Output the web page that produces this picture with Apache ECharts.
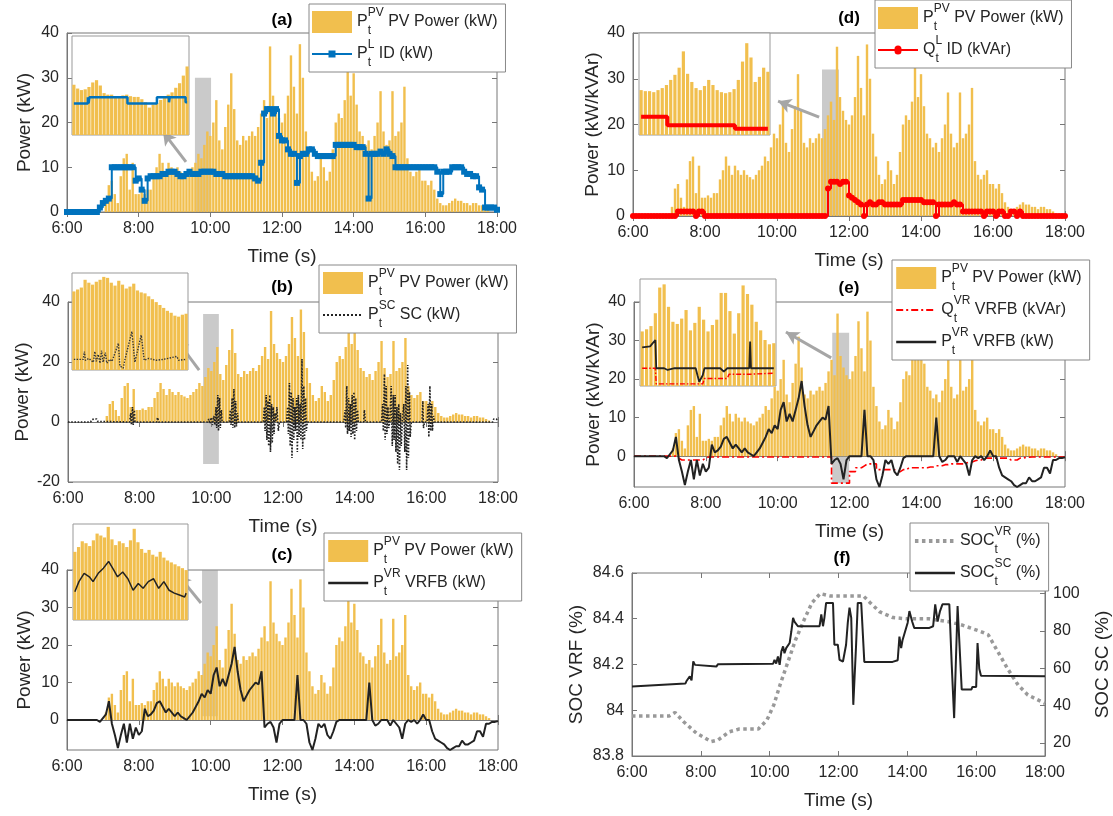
<!DOCTYPE html>
<html><head><meta charset="utf-8">
<script src="https://cdn.jsdelivr.net/npm/echarts@6/dist/echarts.min.js"></script>
<style>html,body{margin:0;padding:0;background:#fff}#c{width:1113px;height:816px}</style>
</head><body><div id="c"></div>
<script>
// ---------------- DATA (5-min samples from 6:00 to 18:00) ----------------
const tickHours = [6, 8, 10, 12, 14, 16, 18];
const pvPower = [
0,0,0,0,0,0,0,0,0,0,0,0,
0,2,6,7,4,2,8,12,13,5,11,4,
4,4.5,4,5,5,8,10,13,11,9,11,10,
9,10,9,8.5,8,9,10,11,13,12,15,18,
17,20,25,16,14,19,24,31,23,16,15,17,
16,17,18,17,19,22,25,21,37,26,23,21,
20,22,26,35,28,22,37.5,30,18,13,9,7,
8,12,10,7,9,14,20,22,21,25,34,26,
31,24,18,17,15,16,14,17,20,27,18,15,
16,27,17,18,20,28,12,9,8,9,10,7,
7,6,7,5,3,2,1.5,1.5,2,2.5,3,2.5,
2.5,2,2,1.5,2,2,1.5,1.5,1,0.5,0,0,
0];
const idLoad = [
0,0,0,0,0,0,0,0,0,0,0,1,
2,2.5,3,10,10,10,10,10,10,10,10,7,
7.5,5,2.5,7.5,8,8,8,8,8.5,8.5,9,9,
9,8.5,8,8,8.5,9,8.5,8.5,8.5,9,9,9,
9,9,8.5,8.5,8.5,8,8,8,8,8,8,8,
8,8,8,7.5,7,11,22,23,23,22,23,17,
16,16,14,13,13,6.5,12.5,13,13,14,14,13,
12.5,12.5,12.5,12.5,12.5,12.5,15,15,15,15,15,15,
15,14.5,14.5,14.5,13,3,13,13,13,13.5,13,14,
13,12.5,10,10,10,10,10,10,10,10,10,10,
10,10,10,10,9,4,9,9,9,10,10,10,
10,9,8.5,8.5,8,8,5.5,5,1,1,1,1,
0.5];
const qLoad = [
0,0,0,0,0,0,0,0,0,0,0,0,
0,0,0,1,1,1,1,1,1,0,1,1,
0,0,0,0,0,0,0,0,0,0,0,0,
0,0,0,0,0,0,0,0,0,0,0,0,
0,0,0,0,0,0,0,0,0,0,0,0,
0,0,0,0,0,6,7.5,7.5,7.5,7,7.5,7.5,
4.5,4,3.5,3,2.5,0,2.5,3,2.5,2.5,3,3,
2.5,2.5,2.5,2.5,2.5,2.5,3.5,3.5,3.5,3.5,3.5,3.5,
3.5,3,3,3,3,0,2.5,2.5,2.5,2.5,2.5,3,
2.5,2.5,1,1,1,1,1,1,1,0,1,1,
1,0,1,1,0,0,1,1,0,1,0,0,
0,0,0,0,0,0,0,0,0,0,0,0,
0];
const pVRFB = [
0,0,0,0,0,0,0,0,0,0,0,-0.5,
0.5,1.5,5,-1,-4,-7.5,-4,-1,-6,-1,-5,-2,
-4,-3,3,1,1.5,2.5,4.5,5,3.5,2,3,2,
1,2,1,0.5,0,1,2,3.5,5,7,6,8,
7,12,14,9,11,9,12,15,19.5,13,8,5,
6.5,8,9,10,9.5,13,-2,-1,-0.5,-2,-6,-1,
0,0,0,0,0,12,0,0,-1,-6,-8,-5,
-1,-2,-1,-4,-5,-3,-0.5,0,0,0,0,0,
0,0,0,0,0,10,0,-1.5,-1,0,0,0,
-1.5,0,-1,-2,-5,-1,0,-0.5,0,-1,0,1.5,
0,0,-3,-5,-5.5,-6,-6.5,-7.5,-8,-7.5,-7,-7,
-5.5,-6.5,-6.5,-6,-5.5,-3,-3,-4.5,-1,-1,-0.5,-0.5,
-0.3];
const qVRFB = [
0,0,0,0,0,0,0,0,0,0,0,0,
0,0,-0.5,-1,-1,-1,-1,-1,-1,-1,-1,-0.5,
-0.2,-0.2,-0.2,-0.2,-0.2,-0.2,-0.2,-0.2,-0.2,-0.2,-0.2,-0.2,
-0.2,-0.2,-0.2,-0.2,-0.2,-0.2,-0.2,-0.2,-0.2,-0.2,-0.2,-0.2,
-0.2,-0.2,-0.2,-0.2,-0.2,-0.2,-0.2,-0.2,-0.2,-0.2,-0.2,-0.2,
-0.2,-0.2,-0.2,-0.2,-0.2,-0.2,-7,-7,-7,-7,-7,-7,
-4,-4,-3,-3,-2.5,-2,-2,-2,-2,-3.5,-3.5,-3.5,
-3.5,-3.5,-3.5,-4,-4,-3.5,-3.5,-3,-3,-3,-3,-3,
-3,-3,-2.8,-2.8,-2.5,-2.5,-2.5,-2.2,-2.2,-2,-2,-2,
-2,-2,-1.8,-1.5,-1.5,-1.2,-1,-1,-0.5,-0.5,-0.5,-0.5,
-0.5,-0.5,-0.5,-0.5,-0.5,-1,-1,-1,-0.5,-0.5,-0.3,-0.3,
-0.2,-0.2,-0.2,-0.2,-0.2,-0.2,-0.2,-0.2,-0.2,-0.2,-0.2,-0.2,
-0.2];
// SC power: [hour, kW]
const pSC = [
[6,0],[6.63,0],[6.67,0.8],[6.7,0.3],[6.73,1],[6.77,0.5],[6.8,1],[6.83,0.2],[6.87,0],
[7.72,0],[7.75,3],[7.77,-1],[7.8,5],[7.82,-1],[7.85,4],[7.87,0],
[8.47,0],[8.5,1.5],[8.53,0],
[9.9,0],[9.93,1],[9.96,-0.5],[10,1.5],[10.03,-1],[10.07,2],[10.1,-1],
[10.13,5],[10.15,-2],[10.18,9],[10.2,-3],[10.23,8],[10.25,-2],[10.28,4],[10.3,0],
[10.5,0],[10.53,4],[10.55,-1],[10.58,8],[10.6,-2],[10.63,11],[10.65,-2],[10.68,7],[10.7,-1.5],[10.73,3],[10.75,0],
[11.45,0],[11.48,5],[11.5,-3],[11.53,9],[11.55,-6],[11.58,7],[11.6,-8],[11.63,9],[11.65,-10],[11.68,6],[11.7,-7],[11.73,5],[11.75,-4],[11.78,3],[11.8,0],
[11.83,5],[11.87,-3],[11.9,0],
[12.1,0],[12.13,5],[12.15,-4],[12.18,13],[12.2,-8],[12.23,10],[12.25,-12],[12.28,8],[12.3,-6],[12.33,5],[12.35,-3],[12.38,8],[12.4,-10],[12.43,9],[12.45,-5],[12.48,6],[12.5,-6],[12.53,21],[12.55,-9],[12.58,12],[12.6,-6],[12.63,8],[12.65,-3],[12.68,0],
[13.7,0],[13.73,4],[13.75,-2],[13.78,12],[13.8,-4],[13.83,8],[13.85,-3],[13.88,6],[13.9,-5],[13.93,9],[13.95,-4],[13.98,10],[14,-6],[14.03,8],[14.05,-3],[14.08,4],[14.1,0],
[14.25,0],[14.27,4],[14.3,0],
[14.75,0],[14.78,6],[14.8,-3],[14.83,16],[14.85,-6],[14.88,12],[14.9,-4],[14.93,5],[14.95,-2],[14.98,0],[15.02,12],[15.05,-8],[15.08,9],[15.1,-6],[15.13,9],[15.15,-10],[15.18,5],[15.2,-14],[15.23,6],[15.25,-16],[15.28,3],[15.3,-8],[15.33,0],[15.37,6],[15.4,-10],[15.43,12],[15.45,-16],[15.48,19],[15.5,-12],[15.53,10],[15.55,-5],[15.58,0],
[15.88,0],[15.9,7],[15.92,-2],[15.95,0],
[16.02,0],[16.05,6],[16.07,-5],[16.1,12],[16.12,-3],[16.15,6],[16.17,-3],[16.2,2],[16.23,0],
[17.85,0],[17.88,1],[17.92,0.5],[17.95,1],[18,0.5]];
// SOC curves: [hour, %]
const socVR = [[6,83.975],[7.08,83.975],[7.25,83.99],[7.5,83.95],[7.87,83.9],[8.3,83.863],[8.5,83.87],[8.83,83.906],[9.12,83.918],[9.67,83.918],[9.92,83.957],[10.12,84.023],[10.3,84.11],[10.5,84.198],[10.75,84.307],[11,84.395],[11.23,84.47],[11.47,84.51],[11.75,84.5],[12.72,84.5],[12.92,84.47],[13.2,84.43],[13.58,84.405],[13.97,84.4],[14.63,84.4],[15.2,84.387],[15.58,84.373],[16.15,84.343],[16.35,84.33],[16.63,84.256],[16.92,84.18],[17.22,84.11],[17.5,84.067],[18,84.03]];
const socSC = [[6,50.2],[7.55,51.8],[7.58,53],[7.68,55.7],[7.73,53.5],[7.78,63.7],[7.83,61.8],[7.87,60.9],[8.45,60.9],[8.5,62.2],[10.1,62.4],[10.14,64.5],[10.19,62.5],[10.24,66.3],[10.29,61.8],[10.34,69],[10.39,71.7],[10.43,68],[10.48,70.8],[10.58,73.5],[10.63,79.8],[10.68,87],[10.72,85],[10.82,82.5],[10.87,81.6],[11.45,82.5],[11.5,88.9],[11.55,82.5],[11.59,87],[11.64,95],[11.84,95],[11.88,72.6],[11.98,72.6],[12.03,64.5],[12.13,63.6],[12.22,72.6],[12.27,84.4],[12.32,92.4],[12.37,87],[12.43,40.4],[12.51,72],[12.56,95],[12.66,95],[12.75,63.4],[13.57,63.4],[13.72,64.3],[13.77,76.9],[13.82,70.8],[13.86,75],[13.91,74],[14.01,84.4],[14.06,90.6],[14.14,85],[14.2,81.6],[14.64,81.6],[14.75,82.5],[14.81,94.2],[14.88,85],[14.95,90.6],[15.02,94.2],[15.22,94.2],[15.29,61.8],[15.36,33.3],[15.46,93.3],[15.51,93.3],[15.58,48.6],[15.86,48.6],[15.89,50],[16.0,50],[16.04,73.5],[16.09,59.7],[16.14,56],[16.18,55.2],[18,55.7]];
// Inset (zoomed) data: minutes 0..30 within the zoom window
const insetPvA = [6.6,6.1,5.9,6.0,6.3,6.9,7.2,6.5,5.5,5.3,5.3,5.1,5.0,5.2,5.3,5.1,5.0,5.0,4.7,4.3,3.6,4.0,4.2,4.6,4.9,5.3,5.6,6.2,6.8,7.8,9.0];
const insetIdA = [[0,4.15],[3.7,4.15],[3.7,4.95],[3.9,4.95],[3.9,4.15],[4.1,4.15],[4.1,4.95],[14.2,4.95],[14.2,4.15],[22,4.15],[22,4.95],[25.2,4.95],[25.2,4.3],[25.4,4.3],[25.4,4.95],[29.6,4.95],[29.6,4.3],[30,4.3]];
const insetPvB = [8.1,8.3,8.5,9.3,9.0,8.8,9.1,9.3,9.6,9.5,9.0,8.7,9.2,8.8,8.4,8.6,8.9,8.2,8.0,7.9,7.6,7.3,7.0,6.7,6.4,6.1,5.9,5.6,5.5,5.7,5.8];
const insetScB = [[0,1.1],[2.5,1.1],[2.8,1.9],[3.1,1.0],[4,1.2],[5.2,0.8],[5.6,1.9],[6,0.9],[6.5,1.6],[7,0.7],[7.4,2.0],[7.8,0.8],[8.4,1.8],[8.8,0.7],[9.6,1.1],[10.2,0.9],[11.9,2.75],[12.3,0.4],[13.2,0.2],[13.6,1.0],[15.5,3.97],[16.3,0.8],[18,3.6],[18.8,1.0],[20,1.2],[22,1.0],[24,1.1],[27.5,1.4],[28,1.0],[30,1.1]];
const insetPvC = [7.1,7.6,8.2,8.0,7.7,8.3,9.0,8.8,8.6,9.7,8.4,7.8,8.2,8.0,7.6,8.3,9.5,8.1,7.4,7.0,7.3,6.8,6.6,7.1,6.5,6.2,6.0,5.8,5.6,5.4,5.2];
const insetVrC = [[0,2.95],[1.1,4.0],[2.5,4.86],[3.9,4.5],[4.9,4.0],[6.3,4.86],[7.7,5.4],[9.1,6.1],[10.5,5.2],[11.5,4.5],[12.9,5.0],[14.3,4.3],[15.7,3.1],[17.1,3.8],[18.4,3.3],[19.8,4.0],[21.2,4.3],[22.6,3.3],[24,4.0],[25.4,3.1],[26.8,2.8],[28.2,2.6],[29.6,2.4],[30,2.8]];
const insetPvD = [4.4,4.3,4.3,4.2,4.4,4.6,4.9,5.4,5.9,6.6,8.2,6.0,5.2,4.6,4.4,4.8,5.4,4.9,4.4,4.2,4.1,4.2,4.5,5.4,7.2,9.0,7.6,5.2,5.7,6.6,6.2];
const insetQD = [[0,1.78],[6.2,1.78],[6.2,0.95],[22.2,0.95],[22.2,0.62],[30,0.62]];
const insetPvE = [5.1,5.3,5.6,6.8,9.2,9.5,7.4,6.0,5.8,6.3,7.1,5.2,5.9,7.4,6.2,5.1,5.7,6.2,8.7,8.7,7.0,4.9,6.8,9.4,8.6,7.6,6.0,5.2,4.3,3.9,4.0];
const insetVrE = [[0,3.6],[1.8,3.7],[3,4.3],[3.2,1.66],[5,1.66],[5.8,1.5],[7.4,1.66],[12.2,1.66],[12.6,1.0],[13,0.4],[13.8,1.0],[14.2,1.66],[17.8,1.66],[18.6,1.35],[19.4,1.66],[24.4,1.66],[24.6,4.15],[24.8,1.66],[30,1.66]];
const insetQE = [[0,1.66],[3.0,1.66],[3.2,0.2],[13.8,0.2],[14.2,0.7],[19.4,0.7],[19.8,1.1],[24.6,1.1],[24.8,1.2],[30,1.2]];
// shaded zoom windows [t0, v0, t1, v1] and arrows [tFrom, vFrom, tTo, vTo]
const zoomBoxes = [[9.57,-3,10.02,30],[9.77,-14,10.21,36],[9.76,1,10.2,41],[11.25,-0.7,11.72,32],[11.52,-7,11.99,32]];
const zoomArrows = [[9.32,11.2,8.68,17.9],[9.66,17.3,9.01,27.7],[9.73,31.2,9.09,38.7],[11.17,21.6,10.03,25.1],[11.49,25.5,10.23,32.2]];

// ---------------- CHART ----------------
const F = '"Liberation Sans", Arial, Helvetica, sans-serif';
const TXT = '#262626', AX = '#777', PVC = '#F1BF4E';
const at5 = arr => arr.map((v, i) => [6 + i / 12, v]);
const idx = arr => arr.map((v, i) => [i, v]);

const mainGrids = [
  {left:67, top:33, width:430, height:179},
  {left:68, top:302, width:430, height:180},
  {left:67, top:570, width:431, height:180},
  {left:633, top:33, width:432, height:183},
  {left:634, top:302, width:431, height:185},
  {left:632, top:573, width:414, height:183}
];
const insetGrids = [
  {left:72, top:36, width:117, height:99},
  {left:72, top:273, width:116, height:97},
  {left:73, top:524, width:115, height:96},
  {left:639, top:33, width:131, height:102},
  {left:640, top:279, width:136, height:107}
];
const grid = mainGrids.map(g => Object.assign({show:true, borderColor:AX, borderWidth:1, backgroundColor:'transparent'}, g))
  .concat(insetGrids.map(g => Object.assign({show:true, borderColor:'#999', borderWidth:1, backgroundColor:'#fff', z:10}, g)));

const tickStyle = {inside:true, length:5, lineStyle:{color:AX}};
const xAxis = [];
for (let i = 0; i < 6; i++) xAxis.push({
  type:'value', gridIndex:i, min:6, max:18, interval:2,
  axisLine:{show:true, lineStyle:{color:AX}}, axisTick:tickStyle,
  axisLabel:{formatter: v => v + ':00', fontSize:16, color:TXT, fontFamily:F, margin:9},
  splitLine:{show:false}, name:'Time (s)', nameLocation:'middle', nameGap:35,
  nameTextStyle:{fontSize:19, color:TXT, fontFamily:F}
});
for (let i = 0; i < 5; i++) xAxis.push({type:'value', gridIndex:6+i, min:-0.5, max:30.5, show:false});
// mirrored top ticks (box style)
for (let i = 0; i < 6; i++) xAxis.push({type:'value', gridIndex:i, position:'top', min:6, max:18, interval:2,
  axisLine:{show:false}, axisTick:tickStyle, axisLabel:{show:false}, splitLine:{show:false}});

function yMain(gi, min, max, opt, name, gap) {
  return Object.assign({
    type:'value', gridIndex:gi, min, max,
    axisLine:{show:true, lineStyle:{color:AX}}, axisTick:tickStyle,
    axisLabel:{fontSize:16, color:TXT, fontFamily:F, margin:8},
    splitLine:{show:false}, name, nameLocation:'middle', nameGap:gap,
    nameTextStyle:{fontSize:19, color:TXT, fontFamily:F}
  }, opt);
}
const cust = v => ({axisLabel:{customValues:v, fontSize:16, color:TXT, fontFamily:F, margin:8}, axisTick:{customValues:v, inside:true, length:5, lineStyle:{color:AX}}});
const yAxis = [
  yMain(0, 0, 40, {interval:10}, 'Power (kW)', 33),
  yMain(1, -20, 40, {interval:20}, 'Power (kW)', 36),
  yMain(2, -8, 40, cust([0,10,20,30,40]), 'Power (kW)', 33),
  yMain(3, 0, 40, {interval:10}, 'Power (kW/kVAr)', 31),
  yMain(4, -8, 40, cust([0,10,20,30,40]), 'Power (kW/kVAr)', 31),
  yMain(5, 83.8, 84.6, {interval:0.2, axisLabel:{fontSize:16, color:TXT, fontFamily:F, margin:8, formatter: v => String(+v.toFixed(1))}}, 'SOC VRF (%)', 46)
];
const insetY = [[0,13],[0,10],[0,10],[0,10],[0,10]];
insetY.forEach((r, i) => yAxis.push({type:'value', gridIndex:6+i, min:r[0], max:r[1], show:false}));
yAxis.push(Object.assign(yMain(5, 13, 111, cust([20,40,60,80,100]), 'SOC SC (%)', 48), {position:'right', axisLine:{show:true, lineStyle:{color:AX}}}));
const Y_F_RIGHT = yAxis.length - 1;
// mirrored right ticks (box style)
[[0,40,{interval:10}],[-20,40,{interval:20}],[-8,40,{axisTick:{customValues:[0,10,20,30,40], inside:true, length:5, lineStyle:{color:AX}}}],
 [0,40,{interval:10}],[-8,40,{axisTick:{customValues:[0,10,20,30,40], inside:true, length:5, lineStyle:{color:AX}}}]]
 .forEach((r, i) => yAxis.push(Object.assign({type:'value', gridIndex:i, position:'right', min:r[0], max:r[1],
   axisLine:{show:false}, axisTick:tickStyle, axisLabel:{show:false}, splitLine:{show:false}}, r[2])));

const series = [];
function pv(name, gi) {
  series.push({name, type:'bar', xAxisIndex:gi, yAxisIndex:gi, data:at5(pvPower), barWidth:2.4,
    itemStyle:{color:PVC}, z:2, silent:true});
}
const LSTYLE = {};
function line(name, gi, data, style, extra) {
  LSTYLE[name] = style;
  series.push(Object.assign({name, type:'line', xAxisIndex:gi, yAxisIndex:gi, data, symbol:'none',
    lineStyle:style, itemStyle:{color:style.color}, z:3, silent:true}, extra || {}));
}
// (a)
pv('pvA', 0);
line('idA', 0, at5(idLoad), {color:'#0072BD', width:2}, {step:'end', symbol:'rect', symbolSize:6, showSymbol:true});
// (b)
pv('pvB', 1);
line('scB', 1, pSC, {color:'#222', width:1.6, type:'dotted'});
// (c)
pv('pvC', 2);
line('vrC', 2, at5(pVRFB), {color:'#222', width:2});
// (d)
pv('pvD', 3);
line('qD', 3, at5(qLoad), {color:'#FF0000', width:2}, {step:'end', symbol:'circle', symbolSize:6, showSymbol:true});
// (e)
pv('pvE', 4);
line('qE', 4, at5(qVRFB), {color:'#FF0000', width:1.6, type:[7,3,2,3]}, {step:'end'});
line('vrE', 4, at5(pVRFB), {color:'#222', width:2});
// (f)
line('socVR', 5, socVR, {color:'#999', width:3.5, type:[3.5,3.5]});
line('socSC', 5, socSC, {color:'#222', width:2}, {yAxisIndex:Y_F_RIGHT});

// zoom windows + arrows
zoomBoxes.forEach((b, i) => {
  const a = zoomArrows[i];
  series.push({type:'line', name:'zoom'+i, xAxisIndex:i, yAxisIndex:i, data:[], z:5, clip:false, silent:true,
    markArea:{silent:true, itemStyle:{color:'rgba(150,150,150,0.5)'}, data:[[{xAxis:b[0], yAxis:b[1]},{xAxis:b[2], yAxis:b[3]}]]},
    markLine:{silent:true, symbol:['none','arrow'], symbolSize:[11,13], label:{show:false},
      lineStyle:{color:'#a6a6a6', width:3, type:'solid'}, data:[[{coord:[a[0],a[1]]},{coord:[a[2],a[3]]}]]}
  });
});

// insets
function ibar(i, vals) {
  series.push({type:'bar', xAxisIndex:6+i, yAxisIndex:6+i, data:idx(vals), barWidth:3.2, itemStyle:{color:PVC}, z:11, silent:true});
}
function iline(i, data, style, extra) {
  series.push(Object.assign({type:'line', xAxisIndex:6+i, yAxisIndex:6+i, data, symbol:'none', lineStyle:style, z:12, silent:true}, extra||{}));
}
ibar(0, insetPvA); iline(0, insetIdA, {color:'#0072BD', width:2.5});
ibar(1, insetPvB); iline(1, insetScB, {color:'#333', width:1.4, type:'dotted'});
ibar(2, insetPvC); iline(2, insetVrC, {color:'#222', width:1.5});
ibar(3, insetPvD); iline(3, insetQD, {color:'#FF0000', width:4});
ibar(4, insetPvE); iline(4, insetQE, {color:'#FF0000', width:1.4, type:[5,2,1.5,2]}); iline(4, insetVrE, {color:'#222', width:1.8});

// legends
const LBL = {
  pv:['P','t','PV',' PV Power (kW)'], idA:['P','t','L',' ID (kW)'], scB:['P','t','SC',' SC (kW)'],
  vrC:['P','t','VR',' VRFB (kW)'], qD:['Q','t','L',' ID (kVAr)'], qE:['Q','t','VR',' VRFB (kVAr)'],
  vrE:['P','t','VR',' VRFB (kW)'], socVR:['SOC','t','VR',' (%)'], socSC:['SOC','t','SC',' (%)']
};
const ICON = {
  idA:'path://M0,10h16.5v-2.5h7v2.5h16.5v2h-16.5v2.5h-7v-2.5h-16.5z',
  qD:'path://M0,10h16.5a3.5,3.5 0 0 1 7,0h16.5v2h-16.5a3.5,3.5 0 0 1 -7,0h-16.5z'
};
const rich = {
  m:{fontSize:16, fontFamily:F, color:TXT, lineHeight:30, verticalAlign:'middle'},
  sb:{fontSize:12, fontFamily:F, color:TXT, lineHeight:13, width:0, verticalAlign:'bottom'},
  sp:{fontSize:12, fontFamily:F, color:TXT, lineHeight:13, verticalAlign:'top'}
};
const fmt = n => { const l = LBL[n.startsWith('pv') ? 'pv' : n]; return `{m|${l[0]}}{sb|${l[1]}}{sp|${l[2]}}{m|${l[3]}}`; };
function legItem(n) {
  if (n.startsWith('pv')) return {name:n, icon:'rect'};
  if (ICON[n]) return {name:n, icon:ICON[n]};
  const s = LSTYLE[n];
  return {name:n, itemStyle:{opacity:0}, lineStyle:{width:s.width + 0.4, type:s.type || 'solid', color:s.color}};
}
function leg(names, left, top) {
  return {data:names.map(legItem), left, top, orient:'vertical',
    itemWidth:40, itemHeight:22, itemGap:2, padding:[3,8,3,3], borderColor:'#888', borderWidth:1,
    backgroundColor:'#fff', formatter:fmt, textStyle:{rich, fontFamily:F, fontSize:16, color:TXT}, selectedMode:false, z:8};
}
const legend = [
  leg(['pvA','idA'], 309, 4), leg(['pvB','scB'], 319, 265), leg(['pvC','vrC'], 324, 533),
  leg(['pvD','qD'], 875, 0), leg(['pvE','qE','vrE'], 892, 260), leg(['socVR','socSC'], 910, 523)
];
const titles = [['(a)',282,20],['(b)',282,287],['(c)',282,555],['(d)',849,18],['(e)',849,288],['(f)',842,558]];
const graphic = titles.map(t => ({type:'text', x:t[1], y:t[2], z:20,
  style:{text:t[0], fontSize:17, fontWeight:'bold', fontFamily:F, fill:'#000', align:'center', verticalAlign:'middle'}}));

const chart = echarts.init(document.getElementById('c'), null, {renderer:'canvas'});
chart.setOption({animation:false, backgroundColor:'#fff', grid, xAxis, yAxis, series, legend, graphic});
</script></body></html>
